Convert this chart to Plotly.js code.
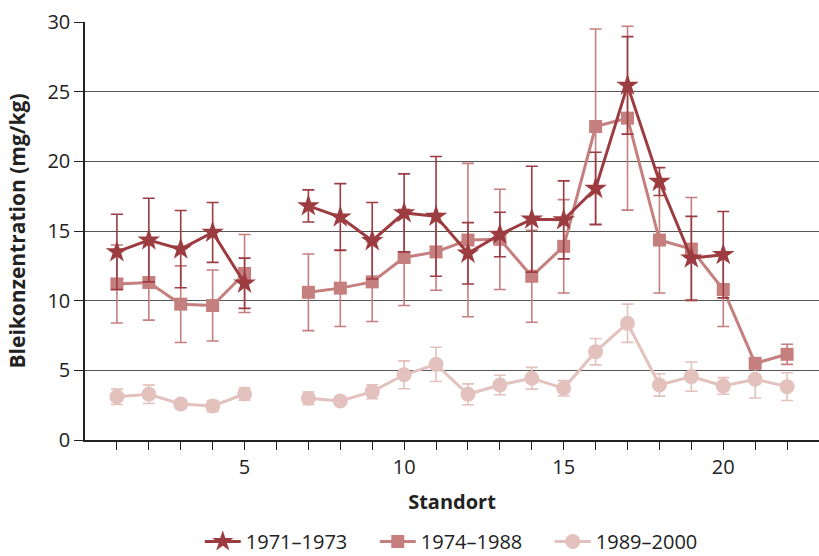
<!DOCTYPE html>
<html><head><meta charset="utf-8">
<script src="https://cdn.plot.ly/plotly-3.0.1.min.js"></script>
<style>html,body{margin:0;padding:0;background:#fff}#chart{width:819px;height:556px}</style>
</head><body><div id="chart"></div>
<script>
const sites = [1,2,3,4,5,6,7,8,9,10,11,12,13,14,15,16,17,18,19,20,21,22];
const tickVals = [1,2,3,4,5,6,7,8,9,10,11,12,13,14,15,16,17,18,19,20,21,22];
const tickText = ['','','','','5','','','','','10','','','','','15','','','','','20','',''];
const names = ['1971–1973','1974–1988','1989–2000'];
const s1 = [13.5,14.35,13.7,14.9,11.25,null,16.8,16.0,14.3,16.3,16.05,13.4,14.75,15.85,15.8,18.05,25.45,18.55,13.05,13.3,null,null];
const e1 = [2.7,3.0,2.77,2.15,1.8,null,1.15,2.4,2.75,2.8,4.3,2.2,1.6,3.8,2.8,2.6,3.5,1.0,3.0,3.1,null,null];
const s2 = [11.2,11.3,9.75,9.65,11.95,null,10.6,10.9,11.35,13.1,13.5,14.35,14.4,11.75,13.9,22.5,23.1,14.35,13.7,10.8,5.5,6.15];
const e2 = [2.8,2.7,2.75,2.55,2.8,null,2.75,2.75,2.85,3.45,2.75,5.5,3.6,3.3,3.35,7.0,6.6,3.8,3.7,2.65,0.3,0.72];
const s3 = [3.1,3.28,2.58,2.44,3.3,null,3.0,2.8,3.47,4.68,5.43,3.28,3.95,4.43,3.71,6.34,8.38,3.95,4.55,3.88,4.36,3.83];
const e3 = [0.55,0.66,0.3,0.4,0.45,null,0.45,0.2,0.5,1.0,1.23,0.75,0.7,0.78,0.55,0.95,1.37,0.8,1.05,0.6,1.35,1.0];

const colors = ['#9c3c41','#c47f7e','#e3c1bd'];
const symbols = ['star','square','circle'];
const msizes = [17,13,15];
const ys = [s1,s2,s3];
const es = [e1,e2,e3];

const traces = [2,1,0].map(i => ({
  type:'scatter', mode:'lines+markers', x:sites, y:ys[i], name:names[i],
  connectgaps:false,
  line:{color:colors[i], width:3},
  marker:{symbol:symbols[i], size:msizes[i], color:colors[i]},
  error_y:{type:'data', array:es[i], visible:true, color:colors[i], thickness:1.6, width:6}
}));

const font = "'Open Sans', sans-serif";
const layout = {
  width:819, height:556,
  margin:{l:85, r:0, t:22, b:116, autoexpand:false},
  paper_bgcolor:'#fff', plot_bgcolor:'#fff',
  font:{family:font, size:20, color:'#222'},
  showlegend:true,
  legend:{orientation:'h', x:0.514, xanchor:'center', y:-0.2895, yanchor:'bottom', traceorder:'reversed',
    font:{size:20}, itemwidth:36, entrywidth:124, entrywidthmode:'pixels'},
  xaxis:{range:[0,23], tickmode:'array', tickvals:tickVals, ticktext:tickText,
    ticks:'outside', ticklen:8, tickcolor:'#222', showgrid:false, zeroline:false,
    showline:true, linecolor:'#222', linewidth:1.5,
    title:{text:'<b>Standort</b>', font:{size:20}, standoff:16}},
  yaxis:{range:[0,30], dtick:5, ticks:'outside', ticklen:9, tickcolor:'#222',
    showgrid:true, gridcolor:'#555', gridwidth:1, zeroline:false,
    showline:true, linecolor:'#222', linewidth:1.5,
    title:{text:'<b>Bleikonzentration (mg/kg)</b>', font:{size:21}, standoff:16}}
};
Plotly.newPlot('chart', traces, layout, {displayModeBar:false});
</script></body></html>
